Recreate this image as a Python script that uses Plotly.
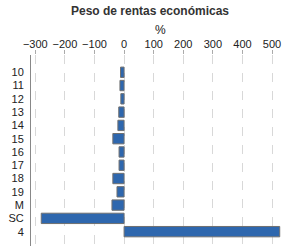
import plotly.graph_objects as go

categories = ["10", "11", "12", "13", "14", "15", "16", "17", "18", "19", "M", "SC", "4"]
values = [-12, -14, -11, -18, -21, -38, -17, -17, -38, -24, -41, -280, 526]
tick_vals = [-300, -200, -100, 0, 100, 200, 300, 400, 500]

fig = go.Figure(go.Bar(
    x=values, y=categories, orientation="h",
    marker=dict(color="#2E67AE", line=dict(color="#707070", width=1)),
    width=0.78,
))

font_family = "Liberation Sans, Arial, sans-serif"
plot_top, plot_bottom = 55, 4
plot_h = 250 - plot_top - plot_bottom
fig.update_layout(
    width=300, height=250,
    margin=dict(l=31, r=10, t=plot_top, b=plot_bottom),
    paper_bgcolor="white", plot_bgcolor="white",
    showlegend=False,
    font=dict(family=font_family, size=11, color="#222"),
    title=dict(text="<b>Peso de rentas económicas</b>", x=0.5, xanchor="center",
               y=1 - 11 / 250, yanchor="middle", font=dict(size=12, color="#333")),
    xaxis=dict(
        side="top", range=[-314.6, 560.7], tickvals=tick_vals,
        ticks="outside", ticklen=4, tickcolor="#aaa", tickwidth=1,
        ticklabelstandoff=-2,
        showgrid=True, gridcolor="#d8d8d8", griddash="dash", gridwidth=1,
        zeroline=False, showline=False,
        tickfont=dict(size=11, color="#222"),
    ),
    yaxis=dict(
        type="category", range=[13.08, -1.30],
        showgrid=False, zeroline=False,
        showline=True, linecolor="#888", linewidth=1,
        ticks="", ticklabelstandoff=4,
        tickfont=dict(size=11, color="#222"),
    ),
    annotations=[dict(
        text="%", xref="paper", yref="paper", x=0.5, y=1 + 25 / plot_h,
        xanchor="center", yanchor="middle", showarrow=False,
        font=dict(size=12, color="#222"),
    )],
)

fig.write_html("out.html")
